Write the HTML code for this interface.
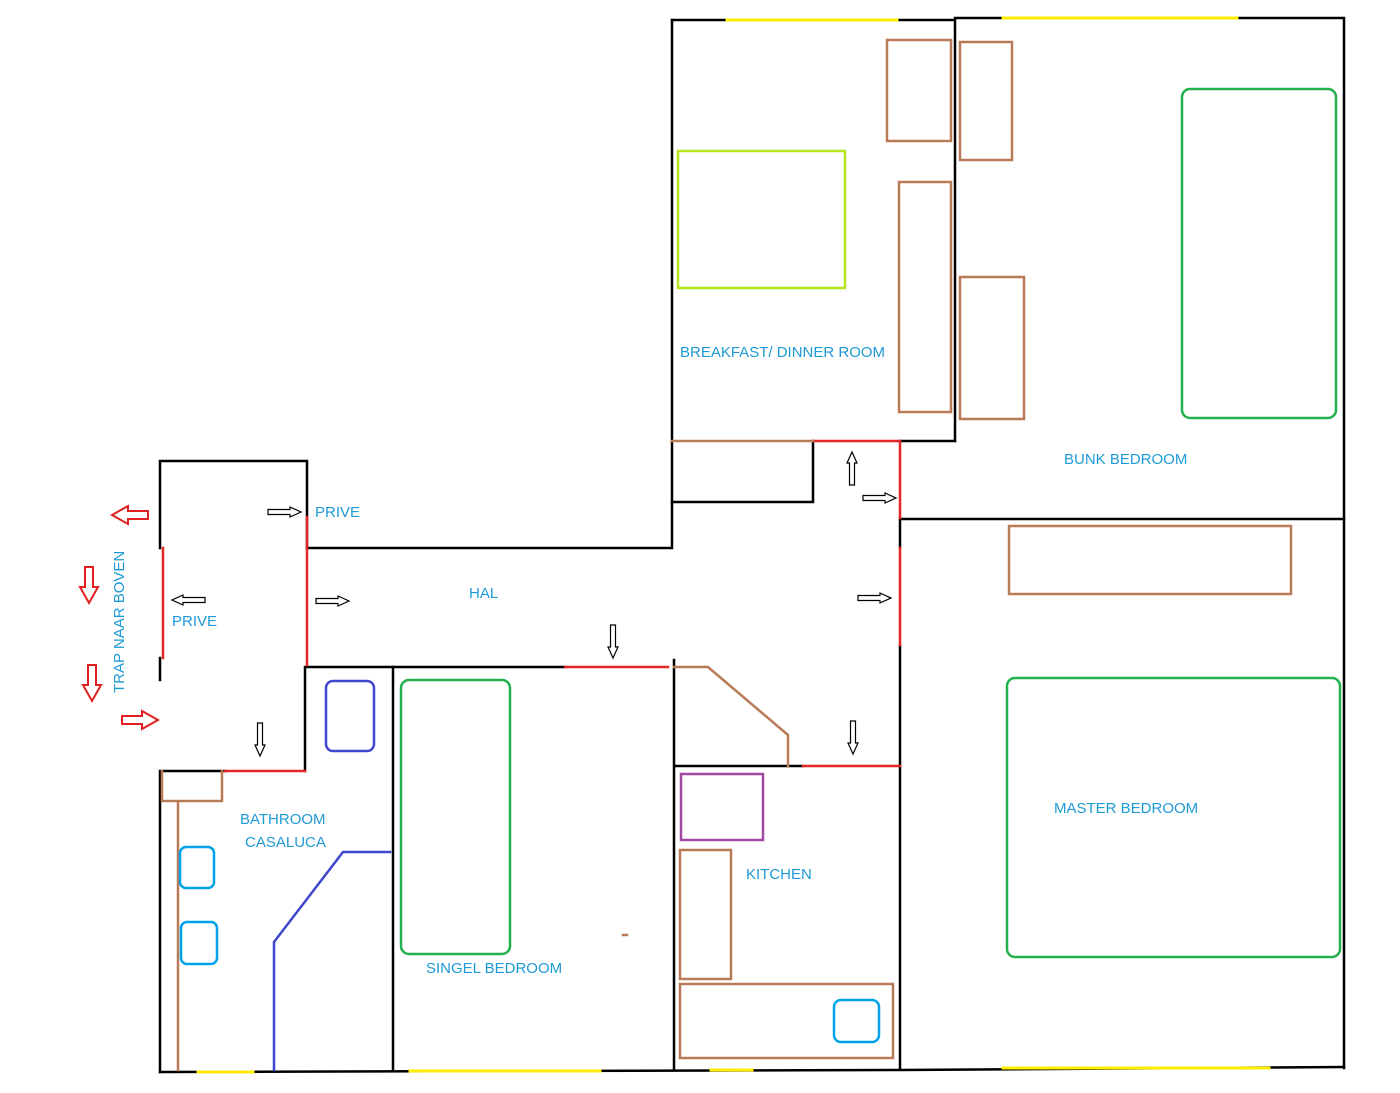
<!DOCTYPE html>
<html><head><meta charset="utf-8"><style>
html,body{margin:0;padding:0;background:#fff;}
svg{display:block;}
text{font-family:"Liberation Sans",sans-serif;font-size:15px;fill:#1e9ad6;}
</style></head><body>
<svg width="1400" height="1093" viewBox="0 0 1400 1093" xmlns="http://www.w3.org/2000/svg">
<defs>
<polygon id="sa" points="0,-2.5 22,-2.5 22,-5 33,0 22,5 22,2.5 0,2.5" fill="#fff" stroke="#000" stroke-width="1.2"/>
<polygon id="ra" points="0,-4 20,-4 20,-9 36,0 20,9 20,4 0,4" fill="#fff" stroke="#e02020" stroke-width="2"/>
</defs>
<g fill="none" stroke-linecap="square">
<!-- black walls -->
<g stroke="#000" stroke-width="2.5">
<path d="M672,20 L955,20 L955,441 M955,18 L1344,18 L1344,1068"/>
<path d="M672,20 L672,548 L307,548 M307,548 L307,461 L160,461 L160,548"/>
<path d="M160,658 L160,680"/>
<path d="M813,441 L813,502 L672,502"/>
<path d="M900,441 L955,441"/>
<path d="M900,518 L900,548 M900,645 L900,1068 M900,519 L1344,519"/>
<path d="M305,667 L565,667 M305,667 L305,771 M160,771 L225,771 M160,771 L160,1072"/>
<path d="M160,1072 L900,1070 L1344,1067"/>
<path d="M393,667 L393,1070 M674,660 L674,1070 M674,766 L803,766"/>
</g>
<!-- red doors -->
<g stroke="#e32626" stroke-width="2.5">
<path d="M813,441 L900,441 L900,518 M900,548 L900,645"/>
<path d="M307,517 L307,665 M163,548 L163,658"/>
<path d="M565,667 L668,667 M225,771 L305,771 M803,766 L900,766"/>
</g>
<!-- yellow windows -->
<g stroke="#ffee00" stroke-width="3">
<path d="M727,20 L897,20 M1003,18 L1237,18"/>
<path d="M198,1072 L253,1072 M410,1071 L600,1071 M711,1070 L752,1070 M1003,1068 L1269,1068"/>
</g>
<!-- brown -->
<g stroke="#b97a57" stroke-width="2.5">
<path d="M672,441 L813,441"/>
<path d="M674,667 L708,667 L788,735 L788,766"/>
<path d="M162,771 L162,801 L222,801 L222,771 M178,801 L178,1070"/>
<rect x="887" y="40" width="64" height="101"/>
<rect x="960" y="42" width="52" height="118"/>
<rect x="899" y="182" width="52" height="230"/>
<rect x="960" y="277" width="64" height="142"/>
<rect x="1009" y="526" width="282" height="68"/>
<rect x="680" y="850" width="51" height="129"/>
<rect x="680" y="984" width="213" height="74"/>
<path d="M623,935 L627,935"/>
</g>
<!-- green -->
<g stroke="#22b14c" stroke-width="2.5">
<rect x="1182" y="89" width="154" height="329" rx="8"/>
<rect x="1007" y="678" width="333" height="279" rx="8"/>
<rect x="401" y="680" width="109" height="274" rx="8"/>
</g>
<rect x="678" y="151" width="167" height="137" stroke="#b5e61d" stroke-width="2.5"/>
<rect x="681" y="774" width="82" height="66" stroke="#a349a4" stroke-width="2.5"/>
<rect x="326" y="681" width="48" height="70" rx="7" stroke="#3f48cc" stroke-width="2.5"/>
<path d="M274,1070 L274,942 L343,852 L390,852" stroke="#3f48cc" stroke-width="2.5"/>
<g stroke="#00a2e8" stroke-width="2.5">
<rect x="180" y="847" width="34" height="41" rx="6"/>
<rect x="181" y="922" width="36" height="42" rx="6"/>
<rect x="834" y="1000" width="45" height="42" rx="7"/>
</g>
</g>
<!-- small arrows -->
<use href="#sa" transform="translate(268,512)"/>
<use href="#sa" transform="translate(316,601)"/>
<use href="#sa" transform="translate(205,600) rotate(180)"/>
<use href="#sa" transform="translate(613,625) rotate(90)"/>
<use href="#sa" transform="translate(852,485) rotate(-90)"/>
<use href="#sa" transform="translate(863,498)"/>
<use href="#sa" transform="translate(858,598)"/>
<use href="#sa" transform="translate(853,721) rotate(90)"/>
<use href="#sa" transform="translate(260,723) rotate(90)"/>
<!-- red arrows -->
<use href="#ra" transform="translate(148,515) rotate(180)"/>
<use href="#ra" transform="translate(89,567) rotate(90)"/>
<use href="#ra" transform="translate(92,665) rotate(90)"/>
<use href="#ra" transform="translate(122,720)"/>
<!-- labels -->
<text x="315" y="517">PRIVE</text>
<text x="172" y="626">PRIVE</text>
<text x="469" y="598">HAL</text>
<text x="680" y="357">BREAKFAST/ DINNER ROOM</text>
<text x="1064" y="464">BUNK BEDROOM</text>
<text x="1054" y="813">MASTER BEDROOM</text>
<text x="746" y="879">KITCHEN</text>
<text x="240" y="824">BATHROOM</text>
<text x="245" y="847">CASALUCA</text>
<text x="426" y="973">SINGEL BEDROOM</text>
<text transform="translate(124,693) rotate(-90)">TRAP NAAR BOVEN</text>
</svg>
</body></html>
